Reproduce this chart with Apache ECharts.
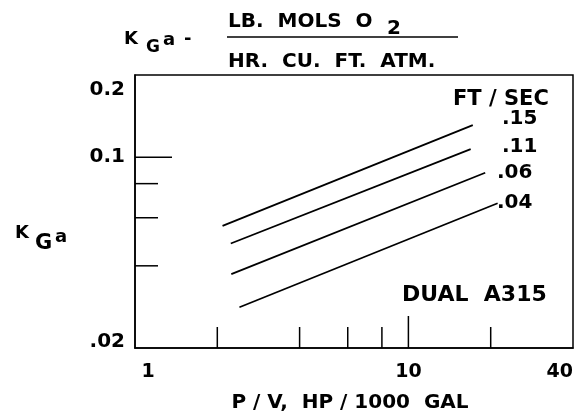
<!DOCTYPE html>
<html>
<head>
<meta charset="utf-8">
<script src="https://cdn.jsdelivr.net/npm/echarts@6/dist/echarts.min.js"></script>
<style>
html,body{margin:0;padding:0;background:#fff;}
#chart{width:579px;height:413px;}
</style>
</head>
<body>
<div id="chart"></div>
<script>
// ---- data ----
var velocityLabels = ['.15', '.11', '.06', '.04'];
var pv15 = [2.09, 17.2];  var kga15 = [0.056, 0.131];
var pv11 = [2.24, 16.9];  var kga11 = [0.0483, 0.107];
var pv06 = [2.25, 19.1];  var kga06 = [0.0373, 0.0877];
var pv04 = [2.41, 21.2];  var kga04 = [0.0282, 0.0678];
var xMinorTicks = [2, 4, 6, 8, 20];
var xMajorTicks = [10];
var yMinorTicks = [0.04, 0.06, 0.08];
var yMajorTicks = [0.1];
var xTickLabels = {1: '1', 10: '10', 40: '40'};
var yTickLabels = {0.02: '.02', 0.1: '0.1', 0.2: '0.2'};
var xMin = 1, xMax = 40, yMin = 0.02, yMax = 0.2;

var FONT = 'DejaVu Sans';
function pairs(xs, ys) { return xs.map(function (x, i) { return [x, ys[i]]; }); }
function lineSeries(xs, ys) {
  return {
    type: 'line', data: pairs(xs, ys), showSymbol: false, symbol: 'none',
    lineStyle: {color: '#000', width: 1.8}, silent: true, z: 3
  };
}
function lookup(map, v) {
  for (var k in map) { if (Math.abs(Math.log10(+k) - Math.log10(v)) < 1e-6) return map[k]; }
  return '';
}
function near(a, b) { return Math.abs(Math.log10(a) - Math.log10(b)) < 1e-6; }

var chart = echarts.init(document.getElementById('chart'), null, {renderer: 'canvas'});

var tickData = [];
xMinorTicks.forEach(function (v) { tickData.push([v, yMin, 0, 21]); });
xMajorTicks.forEach(function (v) { tickData.push([v, yMin, 0, 32]); });
yMinorTicks.forEach(function (v) { tickData.push([xMin, v, 1, 23]); });
yMajorTicks.forEach(function (v) { tickData.push([xMin, v, 1, 37]); });

function txt(text, x, y, size, extra) {
  var o = {
    type: 'text', x: x, y: y, z: 10,
    style: {text: text, font: 'bold ' + size + 'px "' + FONT + '"', fill: '#000',
            textAlign: 'left', textVerticalAlign: 'middle'}
  };
  if (extra) for (var k in extra) o.style[k] = extra[k];
  return o;
}
var labStyle = {fontFamily: FONT, fontWeight: 'bold', fontSize: 20, color: '#000'};
function rs(pad) { var o = {padding: pad}; for (var k in labStyle) o[k] = labStyle[k]; return o; }

var option = {
  backgroundColor: '#fff',
  animation: false,
  grid: {left: 135, right: 6, top: 75, bottom: 65, show: true, borderColor: '#000', borderWidth: 1.5,
         containLabel: false, outerBoundsMode: 'none'},
  xAxis: {
    type: 'log', logBase: 10, min: xMin, max: xMax,
    axisLine: {show: true, lineStyle: {color: '#000', width: 1.5}},
    axisTick: {show: false},
    splitLine: {show: false},
    minorTick: {show: false},
    axisLabel: {
      margin: 15, color: '#000', fontFamily: FONT, fontWeight: 'bold', fontSize: 19,
      alignMinLabel: 'left', alignMaxLabel: 'right',
      formatter: function (v) {
        var s = lookup(xTickLabels, v);
        return near(v, xMin) ? ' ' + s : s;
      }
    },
    name: 'P / V,  HP / 1000  GAL', nameLocation: 'middle', nameGap: 45,
    nameTextStyle: {color: '#000', fontFamily: FONT, fontWeight: 'bold', fontSize: 20, padding: [0, 8, 0, 0]}
  },
  yAxis: {
    type: 'log', logBase: 10, min: yMin, max: yMax,
    axisLine: {show: true, lineStyle: {color: '#000', width: 1.5}},
    axisTick: {show: false},
    splitLine: {show: false},
    minorTick: {show: false},
    axisLabel: {
      margin: 10, color: '#000', fontFamily: FONT, fontWeight: 'bold', fontSize: 20,
      formatter: function (v) {
        var s = lookup(yTickLabels, v);
        if (near(v, yMax)) return '{hi|' + s + '}';
        if (near(v, yMin)) return '{lo|' + s + '}';
        return '{mid|' + s + '}';
      },
      rich: {
        hi: rs([30, 0, 0, 0]),
        lo: rs([0, 0, 12, 0]),
        mid: rs([0, 0, 0, 0])
      }
    }
  },
  series: [
    lineSeries(pv15, kga15),
    lineSeries(pv11, kga11),
    lineSeries(pv06, kga06),
    lineSeries(pv04, kga04),
    {
      type: 'custom', data: tickData, silent: true, z: 4, clip: false,
      encode: {x: 0, y: 1},
      renderItem: function (params, api) {
        var p = api.coord([api.value(0), api.value(1)]);
        var horiz = api.value(2) === 1;
        var len = api.value(3);
        return {
          type: 'line',
          shape: horiz ? {x1: p[0], y1: p[1], x2: p[0] + len, y2: p[1]}
                       : {x1: p[0], y1: p[1], x2: p[0], y2: p[1] - len},
          style: {stroke: '#000', lineWidth: 1.5}
        };
      }
    }
  ],
  graphic: [
    // top title: KGa - fraction
    txt('K', 124, 39, 18),
    txt('G', 146, 48, 17),
    txt('a', 163, 40, 18),
    txt('-', 184, 39, 18),
    txt('LB.  MOLS  O', 228, 22, 20),
    txt('2', 387, 29, 20),
    {type: 'line', z: 10, shape: {x1: 227, y1: 37, x2: 458, y2: 37}, style: {stroke: '#000', lineWidth: 1.5}},
    txt('HR.  CU.  FT.  ATM.', 228, 62, 20),
    // y axis title
    txt('K', 15, 233, 18),
    txt('G', 35, 244, 21),
    txt('a', 55, 237, 18),
    // annotations
    txt('FT / SEC', 453, 100, 21),
    txt(velocityLabels[0], 502, 119, 20),
    txt(velocityLabels[1], 502, 147, 20),
    txt(velocityLabels[2], 497, 173, 20),
    txt(velocityLabels[3], 497, 203, 20),
    txt('DUAL  A315', 402, 295, 22)
  ]
};
chart.setOption(option);
</script>
</body>
</html>
